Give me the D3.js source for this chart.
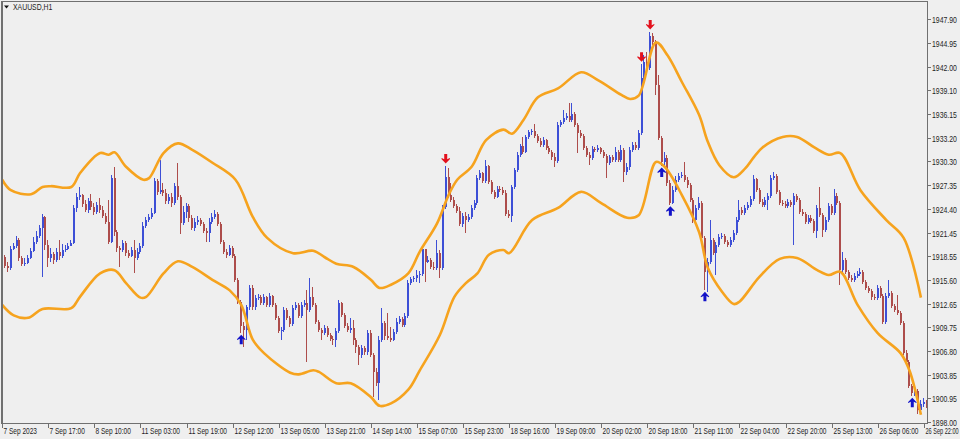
<!DOCTYPE html>
<html><head><meta charset="utf-8">
<script src="https://cdn.jsdelivr.net/npm/d3@7"></script>
<style>html,body{margin:0;padding:0;background:#efefef;overflow:hidden}</style>
</head><body><svg id="c" width="960" height="439"></svg>
<script>
const symbolTitle = "XAUUSD,H1";
const firstOpen = 1916.5;
const closes = [
1918.4,1917.3,1917.1,1919.4,1919.8,1920.5,1918.3,1917.6,1917.7,1918.3,
1919.2,1920.3,1921.0,1922.0,1923.4,1919.9,1918.3,1918.8,1918.1,1919.1,
1918.6,1919.3,1919.4,1919.8,1920.2,1924.5,1925.9,1926.1,1925.0,1924.3,
1925.4,1924.6,1924.0,1924.9,1924.3,1923.5,1922.8,1920.3,1928.2,1921.5,
1919.5,1919.3,1920.2,1918.9,1918.6,1919.3,1918.3,1919.1,1919.8,1922.3,
1923.0,1923.4,1923.9,1927.8,1926.5,1926.7,1926.4,1925.4,1925.9,1925.1,
1927.2,1925.9,1922.6,1924.0,1924.8,1923.3,1922.0,1922.8,1923.0,1922.5,
1921.7,1921.4,1922.8,1923.4,1923.8,1922.5,1920.3,1919.1,1918.7,1919.5,
1918.6,1915.6,1912.9,1909.9,1909.4,1912.2,1914.6,1912.2,1913.4,1913.5,
1912.7,1913.5,1912.5,1913.6,1912.5,1910.9,1909.3,1909.4,1911.9,1910.9,
1910.1,1912.1,1912.5,1911.1,1912.5,1912.7,1911.9,1913.5,1912.5,1910.4,
1909.4,1909.0,1909.6,1908.8,1908.3,1908.2,1909.3,1912.7,1911.2,1909.9,
1909.4,1909.6,1908.2,1907.3,1906.3,1907.2,1906.7,1909.0,1906.3,1904.2,
1902.8,1908.2,1910.3,1908.6,1908.4,1908.2,1909.1,1910.4,1910.8,1910.0,
1911.1,1915.2,1915.7,1915.8,1916.2,1916.3,1919.4,1917.8,1918.1,1917.2,
1917.1,1918.9,1917.1,1924.6,1928.3,1926.1,1925.5,1924.8,1924.1,1922.5,
1923.5,1923.0,1923.4,1924.5,1925.1,1928.2,1928.8,1927.8,1929.7,1927.7,
1926.5,1925.9,1926.9,1926.7,1926.4,1923.8,1923.5,1927.1,1929.2,1931.1,
1932.2,1931.4,1933.3,1933.9,1934.0,1933.4,1932.8,1932.3,1932.9,1931.9,
1931.4,1930.8,1930.3,1934.8,1935.1,1935.6,1935.9,1935.4,1936.1,1934.8,
1933.8,1933.4,1931.9,1931.1,1930.7,1931.8,1931.7,1931.9,1931.4,1930.9,
1930.1,1930.8,1930.4,1931.4,1930.4,1931.7,1929.0,1929.6,1931.7,1932.3,
1931.9,1933.8,1940.6,1942.6,1941.8,1945.8,1945.0,1939.7,1933.2,1930.2,
1930.7,1927.6,1925.1,1926.7,1928.0,1928.5,1928.6,1928.0,1927.3,1925.5,
1923.0,1924.5,1925.1,1920.8,1916.6,1917.8,1920.5,1918.9,1919.9,1920.9,
1921.0,1920.3,1919.9,1920.5,1921.4,1923.0,1924.3,1923.9,1924.5,1924.9,
1925.6,1928.1,1926.7,1925.2,1924.9,1925.5,1926.0,1928.2,1928.5,1926.5,
1925.1,1925.0,1924.7,1925.2,1924.9,1926.0,1925.5,1924.0,1923.8,1922.8,
1923.3,1922.9,1921.7,1924.5,1923.6,1921.8,1923.0,1924.7,1923.9,1926.0,
1925.1,1916.8,1918.1,1916.6,1915.8,1915.6,1916.1,1916.3,1916.6,1915.3,
1914.6,1914.2,1913.5,1913.4,1914.6,1913.6,1910.4,1913.6,1914.0,1912.4,
1911.9,1911.5,1910.3,1906.5,1905.4,1902.5,1901.6,1901.8,1899.5,1900.2,
1900.5,1900.1];
const highs = [
1918.8,1918.7,1917.8,1919.8,1920.2,1921.0,1920.8,1918.6,1918.3,1918.7,
1919.5,1920.9,1921.7,1922.4,1923.8,1923.5,1920.5,1919.5,1919.1,1919.5,
1920.5,1920.0,1919.9,1920.2,1920.5,1924.9,1926.4,1927.1,1926.2,1925.5,
1925.7,1926.2,1925.1,1925.2,1925.7,1924.8,1923.9,1925.5,1928.6,1929.6,
1921.8,1919.8,1920.5,1920.4,1919.3,1919.7,1920.5,1919.5,1920.2,1922.8,
1923.4,1923.8,1924.5,1928.2,1928.1,1930.4,1927.6,1926.9,1926.2,1926.4,
1927.6,1930.1,1926.1,1924.8,1925.1,1925.0,1923.6,1923.3,1923.5,1923.3,
1922.8,1922.0,1923.3,1923.9,1924.3,1924.0,1922.8,1920.5,1919.4,1919.9,
1919.8,1918.8,1915.8,1913.1,1910.4,1912.5,1915.0,1915.0,1913.7,1913.9,
1913.7,1913.9,1913.6,1914.0,1913.7,1912.7,1911.1,1909.8,1912.2,1912.1,
1911.1,1912.5,1912.9,1912.7,1912.9,1913.1,1914.3,1915.8,1914.7,1912.7,
1910.6,1909.6,1910.0,1909.9,1909.0,1908.6,1909.6,1913.1,1912.9,1911.5,
1910.3,1910.9,1910.6,1908.4,1907.5,1907.5,1907.4,1909.4,1909.4,1906.5,
1904.7,1908.6,1912.1,1910.5,1911.5,1909.8,1909.5,1910.9,1911.1,1911.0,
1911.5,1915.6,1916.0,1916.1,1916.8,1916.7,1919.7,1919.3,1918.6,1918.3,
1917.8,1920.5,1919.3,1924.9,1929.7,1929.5,1927.6,1925.9,1925.0,1924.6,
1923.9,1924.0,1923.8,1924.9,1925.5,1928.6,1929.2,1929.0,1930.4,1929.8,
1928.0,1926.7,1927.2,1927.2,1927.1,1926.7,1924.3,1927.3,1929.5,1931.4,
1932.4,1933.3,1933.5,1934.2,1934.3,1934.9,1933.7,1933.2,1933.3,1933.0,
1932.2,1931.7,1931.3,1935.1,1935.4,1936.6,1936.3,1937.5,1937.5,1936.4,
1935.0,1934.2,1933.7,1932.2,1931.4,1932.2,1932.0,1932.3,1932.0,1931.7,
1931.2,1931.1,1931.1,1932.0,1931.7,1932.3,1931.9,1930.1,1932.0,1932.7,
1932.7,1934.2,1942.3,1943.4,1943.8,1946.3,1946.2,1945.3,1941.0,1933.4,
1931.4,1931.1,1928.0,1927.2,1928.5,1928.8,1929.0,1930.2,1928.3,1927.6,
1925.7,1924.9,1925.9,1925.4,1921.0,1918.3,1923.0,1920.8,1920.3,1921.3,
1921.4,1921.3,1920.5,1920.9,1921.8,1923.4,1925.5,1924.6,1924.9,1925.2,
1926.0,1928.6,1928.2,1927.0,1925.6,1925.9,1926.4,1928.6,1929.0,1928.7,
1926.7,1925.5,1925.4,1925.6,1925.5,1926.4,1926.2,1925.7,1924.4,1924.0,
1923.6,1923.6,1923.1,1924.9,1927.1,1923.9,1923.4,1925.1,1925.0,1926.9,
1926.4,1925.4,1919.1,1918.3,1916.8,1916.2,1916.5,1916.7,1917.1,1916.8,
1915.6,1914.8,1914.5,1913.9,1915.0,1914.8,1913.9,1914.0,1915.6,1914.2,
1912.6,1913.7,1911.7,1910.5,1906.9,1905.7,1902.7,1902.2,1902.1,1900.7,
1901.0,1900.7];
const lows = [
1916.1,1917.1,1916.6,1916.8,1919.3,1919.5,1917.9,1917.3,1917.3,1917.6,
1918.2,1919.1,1920.0,1920.8,1916.0,1919.3,1917.2,1917.8,1917.6,1917.8,
1918.1,1918.3,1919.1,1919.3,1919.8,1920.0,1924.0,1925.5,1924.6,1924.0,
1923.9,1924.3,1923.6,1923.8,1923.9,1923.3,1922.5,1920.0,1920.2,1921.0,
1919.1,1917.2,1919.1,1918.6,1918.3,1918.4,1916.5,1918.1,1918.8,1919.5,
1922.0,1922.8,1923.1,1923.8,1926.1,1926.2,1926.0,1925.0,1925.0,1924.6,
1924.9,1925.5,1921.3,1922.4,1923.3,1922.8,1921.8,1921.7,1922.4,1922.3,
1921.4,1920.3,1920.3,1922.5,1923.1,1922.3,1920.0,1918.8,1918.3,1918.6,
1918.3,1915.3,1912.6,1909.0,1907.3,1908.2,1911.9,1911.9,1911.9,1913.1,
1912.5,1912.5,1912.2,1912.2,1912.2,1910.6,1909.0,1908.2,1909.1,1910.6,
1909.8,1909.9,1911.9,1910.9,1910.9,1912.2,1905.4,1911.6,1912.2,1910.1,
1909.1,1908.2,1908.8,1908.5,1908.0,1907.5,1907.3,1909.0,1911.0,1909.6,
1909.1,1909.0,1907.5,1906.5,1905.1,1905.9,1906.3,1906.3,1906.0,1901.1,
1902.5,1900.7,1907.9,1908.2,1908.2,1907.9,1908.0,1908.9,1910.1,1909.8,
1909.8,1910.9,1915.0,1915.3,1915.3,1915.2,1916.1,1915.3,1917.7,1916.9,
1916.8,1916.8,1915.8,1916.8,1924.4,1925.7,1925.2,1924.5,1923.9,1922.3,
1922.1,1921.4,1922.8,1923.1,1924.3,1924.9,1928.0,1927.6,1927.6,1927.5,
1926.2,1925.6,1925.7,1926.5,1926.1,1923.5,1923.3,1922.8,1926.9,1929.0,
1930.8,1931.2,1931.3,1933.0,1933.5,1933.2,1932.5,1932.0,1932.0,1931.7,
1931.2,1930.4,1929.6,1930.1,1934.5,1934.9,1935.4,1935.1,1935.1,1934.5,
1931.3,1933.2,1931.7,1930.8,1929.8,1930.4,1931.4,1931.4,1931.2,1930.7,
1928.2,1929.8,1930.2,1930.2,1930.2,1930.2,1927.7,1928.6,1929.2,1931.4,
1931.7,1931.7,1933.5,1940.3,1941.3,1941.6,1944.7,1938.5,1932.9,1929.7,
1929.7,1927.2,1924.9,1925.0,1926.5,1927.7,1928.2,1927.7,1927.0,1925.2,
1922.6,1922.8,1924.3,1920.5,1914.3,1914.1,1917.6,1918.7,1916.2,1919.7,
1920.7,1920.0,1919.7,1919.7,1920.3,1921.2,1922.8,1923.6,1923.6,1924.3,
1924.6,1925.4,1926.5,1925.0,1924.6,1924.6,1924.3,1925.7,1928.0,1926.2,
1924.9,1924.7,1924.5,1924.5,1924.6,1919.9,1925.2,1923.8,1923.5,1922.5,
1922.5,1922.6,1921.4,1920.8,1923.4,1920.9,1921.5,1922.8,1923.6,1923.6,
1924.9,1915.0,1916.6,1916.3,1915.6,1915.3,1915.3,1915.8,1916.1,1915.1,
1914.3,1914.0,1913.1,1913.1,1913.1,1913.4,1910.1,1910.1,1913.4,1912.1,
1911.6,1911.2,1910.0,1906.3,1905.2,1902.2,1901.2,1901.2,1899.0,1899.2,
1899.9,1899.7];

const upperBandBars = [0,3,10,14,17,24,27,34,37,39,43,49,51,56,61,66,73,81,87,92,101,108,112,116,122,128,131,135,141,145,151,155,158,163,168,174,177,181,186,193,201,207,215,218,221,227,231,236,242,245,249,254,258,261,264,271,276,282,287,291,298,307,313,319];
const upperBand = [1928.0,1926.7,1926.2,1927.1,1927.2,1927.1,1928.8,1931.3,1931.1,1931.4,1929.6,1928.0,1928.2,1931.3,1932.5,1931.7,1930.1,1928.0,1923.4,1920.8,1918.9,1919.2,1918.4,1917.6,1917.2,1915.6,1914.6,1915.0,1916.4,1919.1,1922.6,1926.1,1928.0,1929.6,1932.9,1934.2,1933.7,1935.4,1938.2,1939.3,1941.3,1940.3,1938.5,1938.0,1938.4,1945.0,1943.4,1940.1,1936.0,1932.7,1929.8,1928.3,1929.4,1930.8,1932.0,1933.3,1933.3,1932.0,1931.1,1931.3,1926.7,1923.0,1920.8,1913.4];
const lowerBandBars = [0,4,9,14,24,27,34,39,43,48,50,56,61,66,73,79,83,87,91,100,103,108,110,116,121,128,131,135,141,145,152,157,161,165,169,174,176,184,193,201,208,217,221,227,230,236,242,245,250,254,256,263,270,276,283,287,291,297,304,312,315,319];
const lowerBand = [1912.5,1911.2,1910.9,1912.0,1912.1,1913.5,1916.4,1916.8,1915.2,1913.4,1913.5,1916.4,1917.9,1917.2,1915.6,1914.3,1912.5,1908.2,1906.5,1904.1,1903.9,1904.4,1904.2,1902.8,1902.8,1901.1,1900.0,1900.3,1902.0,1904.4,1908.8,1913.5,1915.2,1916.4,1918.7,1919.3,1918.9,1923.0,1924.5,1926.5,1925.1,1923.3,1923.6,1930.2,1929.6,1926.1,1921.5,1917.1,1914.1,1912.6,1912.9,1916.0,1918.2,1918.3,1916.8,1916.2,1916.6,1912.5,1909.0,1906.5,1904.4,1898.9];

const sellArrowBars = [154, 222, 225];
const buyArrowBars = [83, 229, 232, 244, 316];

const yTickValues = [1947.90,1944.95,1942.00,1939.10,1936.15,1933.20,1930.30,1927.35,1924.40,1921.45,1918.55,1915.60,1912.65,1909.75,1906.80,1903.85,1900.95,1898.00];
const xTickLabels = ["7 Sep 2023","7 Sep 17:00","8 Sep 10:00","11 Sep 03:00","11 Sep 19:00","12 Sep 12:00","13 Sep 05:00","13 Sep 21:00","14 Sep 14:00","15 Sep 07:00","15 Sep 23:00","18 Sep 16:00","19 Sep 09:00","20 Sep 02:00","20 Sep 18:00","21 Sep 11:00","22 Sep 04:00","22 Sep 20:00","25 Sep 13:00","26 Sep 06:00","26 Sep 22:00"];
const barsPerLabel = 16;

// ---------- drawing ----------
const svg = d3.select("#c");
const P = {left: 2, top: 2, right: 927, bottom: 423};
const x = d3.scaleLinear().domain([0, 320]).range([2.2, 923.8]);
const y = d3.scaleLinear().domain([1898.0, 1947.9]).range([422, 19]);
const UP = "#3d4fd6", DOWN = "#ad4d4b", BAND = "#f6a31e";
const FONT = "'Liberation Sans', Arial, sans-serif";

svg.append("rect").attr("width", 960).attr("height", 439).attr("fill", "#efefef");

svg.append("defs").append("clipPath").attr("id", "clip")
  .append("rect").attr("x", P.left).attr("y", P.top)
  .attr("width", P.right - P.left).attr("height", P.bottom - P.top);

const plot = svg.append("g").attr("clip-path", "url(#clip)");

const bars = closes.map((c, i) => {
  const o = i === 0 ? firstOpen : closes[i - 1];
  return {i, o, c, h: Math.max(highs[i], o, c), l: Math.min(lows[i], o, c)};
});

const cg = plot.append("g").attr("shape-rendering", "crispEdges");
bars.forEach(b => {
  const px = Math.round(x(b.i));
  const col = b.c >= b.o ? UP : DOWN;
  cg.append("rect").attr("x", px - 1).attr("width", 1)
    .attr("y", Math.round(y(b.h))).attr("height", Math.max(1, Math.round(y(b.l)) - Math.round(y(b.h))))
    .attr("fill", col);
  const top = Math.round(y(Math.max(b.o, b.c)));
  const bot = Math.round(y(Math.min(b.o, b.c)));
  cg.append("rect").attr("x", px - 1).attr("width", 2)
    .attr("y", top).attr("height", Math.max(1, bot - top))
    .attr("fill", col);
});

const bandLine = d3.line().x(d => x(d[0])).y(d => y(d[1])).curve(d3.curveCatmullRom.alpha(0.5));
plot.append("path").datum(upperBandBars.map((b, k) => [b, upperBand[k]]))
  .attr("d", bandLine).attr("fill", "none").attr("stroke", BAND).attr("stroke-width", 2.6)
  .attr("stroke-linejoin", "round");
plot.append("path").datum(lowerBandBars.map((b, k) => [b, lowerBand[k]]))
  .attr("d", bandLine).attr("fill", "none").attr("stroke", BAND).attr("stroke-width", 2.6)
  .attr("stroke-linejoin", "round");

const arrowPath = "M0,0 L4.3,4.6 L4,5.4 L1.5,4.2 L1.5,9.5 L-1.5,9.5 L-1.5,4.2 L-4,5.4 L-4.3,4.6 Z";
buyArrowBars.forEach(i => {
  plot.append("path").attr("d", arrowPath).attr("fill", "#1212c8")
    .attr("transform", `translate(${x(i)},${y(bars[i].l) + 1.5})`);
});
sellArrowBars.forEach(i => {
  plot.append("path").attr("d", arrowPath).attr("fill", "#e3101c")
    .attr("transform", `translate(${x(i)},${y(bars[i].h) - 2.5}) scale(1,-1)`);
});

// frame
const fr = svg.append("g").attr("shape-rendering", "crispEdges").attr("stroke", "#707070").attr("fill", "none");
fr.append("line").attr("x1", 1.5).attr("x2", 1.5).attr("y1", 1).attr("y2", 424).attr("stroke-width", 2);
fr.append("line").attr("x1", 1).attr("x2", 928).attr("y1", 1.5).attr("y2", 1.5);
fr.append("line").attr("x1", 927.5).attr("x2", 927.5).attr("y1", 1).attr("y2", 424);
fr.append("line").attr("x1", 1).attr("x2", 928).attr("y1", 423.5).attr("y2", 423.5);

function label(g, tx, ty, txt, sx, maxRight) {
  const wrap = g.append("g");
  const t = wrap.append("text").attr("font-family", FONT).attr("font-size", 8.2).attr("fill", "#1e1e1e").text(txt);
  let s = sx;
  if (maxRight) {
    const w = t.node().getBBox().width;
    if (tx + w * s > maxRight) s = (maxRight - tx) / w;
  }
  wrap.attr("transform", `translate(${tx},${ty}) scale(${s},1)`);
}

// y axis (right)
const ya = svg.append("g");
yTickValues.forEach(v => {
  const ty = Math.round(y(v)) + 0.5;
  ya.append("line").attr("x1", 928).attr("x2", 931).attr("y1", ty).attr("y2", ty)
    .attr("stroke", "#707070").attr("shape-rendering", "crispEdges");
  label(ya, 932, ty + 3, d3.format(".2f")(v), 0.84);
});

// x axis (bottom)
const xa = svg.append("g");
xTickLabels.forEach((t, k) => {
  const bar = k * barsPerLabel;
  const tx = Math.round(x(bar)) + 0.5;
  xa.append("line").attr("x1", tx).attr("x2", tx).attr("y1", 424).attr("y2", 428)
    .attr("stroke", "#707070").attr("shape-rendering", "crispEdges");
  label(xa, tx + 1, 434, t, 0.8, 959);
});

// title
svg.append("path").attr("d", "M4,5.5 L9,5.5 L6.5,8.5 Z").attr("fill", "#111");
label(svg, 13, 10, symbolTitle, 0.84);
</script></body></html>
